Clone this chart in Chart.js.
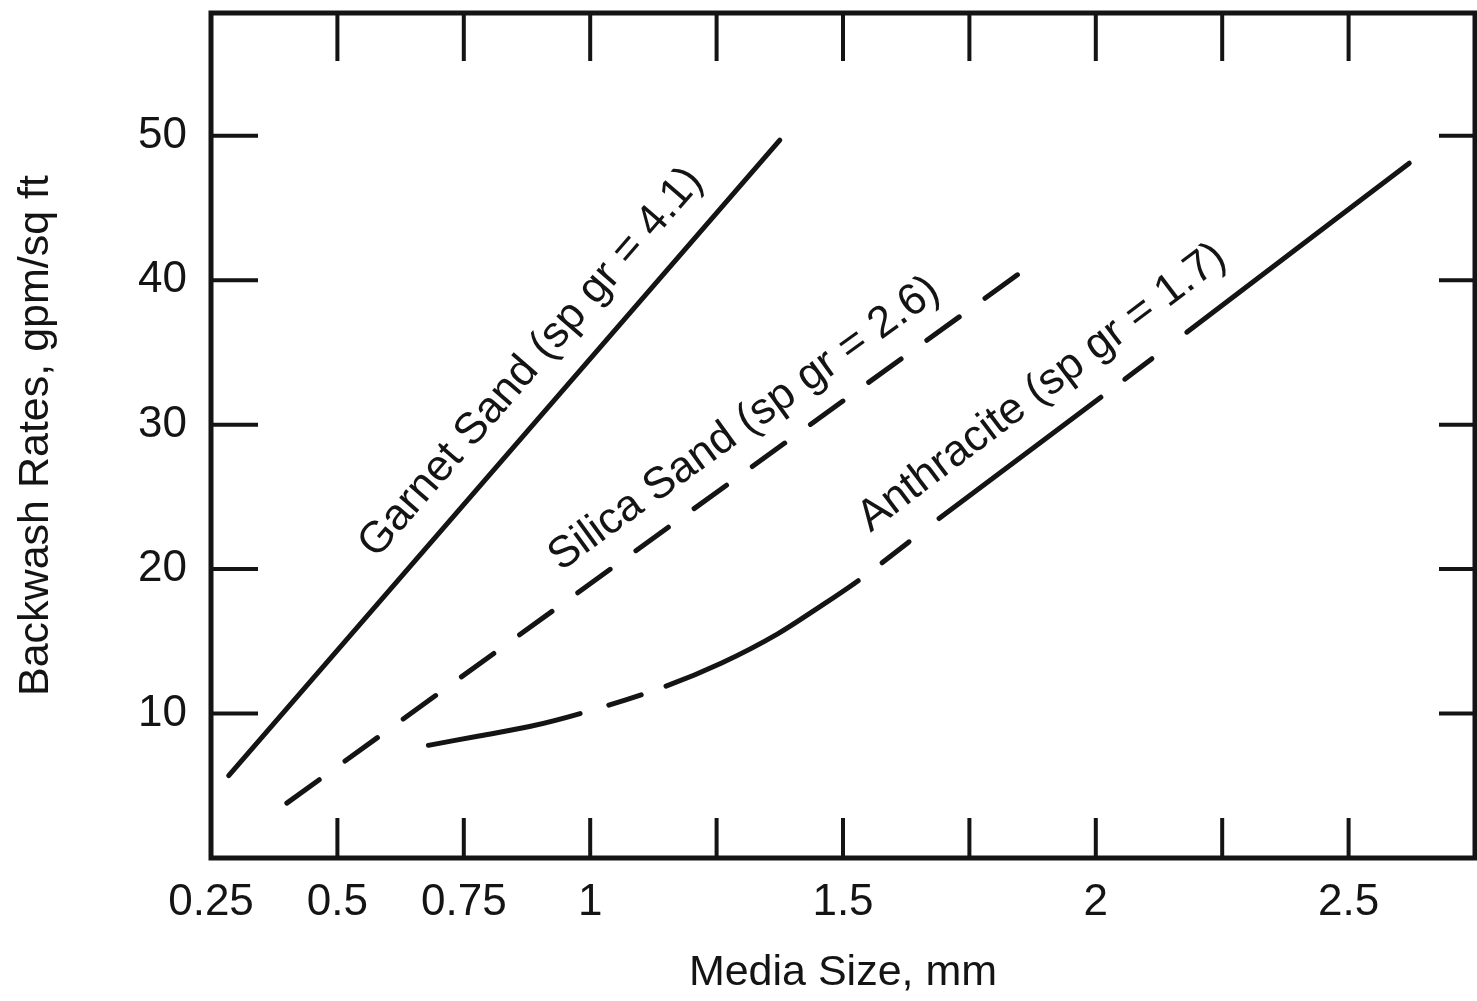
<!DOCTYPE html>
<html>
<head>
<meta charset="utf-8">
<script src="https://cdn.jsdelivr.net/npm/chart.js@4.4.1/dist/chart.umd.min.js"></script>
<style>
  html, body { margin: 0; padding: 0; background: #fff; overflow: hidden; }
  #wrap { width: 1477px; height: 1001px; position: relative; }
</style>
</head>
<body>
<div id="wrap"><canvas id="grafico"></canvas></div>
<script>
// media size (mm) vs backwash rate (gpm/sq ft)
const garnetX = [0.285, 1.375];
const garnetY = [5.7, 49.7];

const silicaX = [0.40, 1.846];
const silicaY = [3.8, 40.4];

const anthraciteX = [0.68, 0.78, 0.88, 0.98, 1.15, 1.26, 1.37, 1.45, 1.53, 1.69, 2.01, 2.18, 2.62];
const anthraciteY = [7.8, 8.45, 9.1, 10.0, 11.9, 13.5, 15.5, 17.3, 19.2, 23.5, 31.9, 36.4, 48.1];

const seriesNames = ['Garnet Sand (sp gr = 4.1)', 'Silica Sand (sp gr = 2.6)', 'Anthracite (sp gr = 1.7)'];
const xLabels = [0.25, 0.5, 0.75, 1, 1.5, 2, 2.5];
const yLabels = [10, 20, 30, 40, 50];

const INK = '#141414';
const FONT = "'Liberation Sans', Arial, Helvetica, sans-serif";

let puntos = (xs, ys) => xs.map((x, i) => ({ x, y: ys[i] }));

// anthracite: the segments that are broken (gap, short dash, gap)
const tramosCortados = [3, 8, 10];

/*
  ==================================================
  ============ frame, inner ticks, labels ===========
  ==================================================
*/

const etiquetas = [
  { ds: 0, desde: 0, hasta: 1, startX: 0.622, offset: 30 },
  { ds: 1, desde: 0, hasta: 1, startX: 0.973, offset: 27 },
  { ds: 2, desde: 9, hasta: 12, startX: 1.59, offset: 30 }
];

const marcoPlugin = {
  id: 'marco',
  afterDatasetsDraw(chart) {
    const { ctx, chartArea: a, scales: { x, y } } = chart;
    ctx.save();
    ctx.strokeStyle = INK;
    ctx.lineWidth = 5;
    ctx.strokeRect(a.left, a.top, a.right - a.left, a.bottom - a.top);

    ctx.lineWidth = 4;
    ctx.beginPath();
    x.ticks.forEach(t => {
      if (t.value <= x.min + 1e-6 || t.value >= x.max - 1e-6) return;
      let px = x.getPixelForValue(t.value);
      ctx.moveTo(px, a.bottom); ctx.lineTo(px, a.bottom - 40);
      ctx.moveTo(px, a.top); ctx.lineTo(px, a.top + 48);
    });
    y.ticks.forEach(t => {
      if (t.value <= y.min || t.value >= y.max) return;
      let py = y.getPixelForValue(t.value);
      ctx.moveTo(a.left, py); ctx.lineTo(a.left + 47, py);
      ctx.moveTo(a.right, py); ctx.lineTo(a.right - 36, py);
    });
    ctx.stroke();

    // labels along the curves
    ctx.fillStyle = INK;
    ctx.font = `44px ${FONT}`;
    ctx.textBaseline = 'alphabetic';
    ctx.textAlign = 'left';
    etiquetas.forEach(e => {
      let d = chart.data.datasets[e.ds].data;
      let p0 = d[e.desde], p1 = d[e.hasta];
      let x0 = x.getPixelForValue(p0.x), y0 = y.getPixelForValue(p0.y);
      let x1 = x.getPixelForValue(p1.x), y1 = y.getPixelForValue(p1.y);
      let ang = Math.atan2(y1 - y0, x1 - x0);
      let px = x.getPixelForValue(e.startX);
      let py = y0 + (px - x0) * (y1 - y0) / (x1 - x0);
      ctx.save();
      ctx.translate(px + Math.sin(ang) * e.offset, py - Math.cos(ang) * e.offset);
      ctx.rotate(ang);
      ctx.fillText(seriesNames[e.ds], 0, 0);
      ctx.restore();
    });
    ctx.restore();
  }
};

/*
  ==================================================
  ====================== CHART ======================
  ==================================================
*/

new Chart(document.getElementById('grafico').getContext('2d'), {
  type: 'line',
  data: {
    datasets: [
      {
        label: seriesNames[0],
        data: puntos(garnetX, garnetY),
        borderColor: INK,
        borderWidth: 5,
        borderCapStyle: 'round',
        pointRadius: 0
      },
      {
        label: seriesNames[1],
        data: puntos(silicaX, silicaY),
        borderColor: INK,
        borderWidth: 5,
        borderCapStyle: 'round',
        borderDash: [40, 31.8],
        pointRadius: 0
      },
      {
        label: seriesNames[2],
        data: puntos(anthraciteX, anthraciteY),
        borderColor: INK,
        borderWidth: 5,
        borderCapStyle: 'round',
        cubicInterpolationMode: 'monotone',
        pointRadius: 0,
        segment: {
          borderDash: c => tramosCortados.includes(c.p0DataIndex) ? [34, 1000] : [],
          borderDashOffset: c => tramosCortados.includes(c.p0DataIndex) ? 1034 - 30 : 0
        }
      }
    ]
  },
  options: {
    responsive: true,
    maintainAspectRatio: false,
    animation: false,
    layout: { autoPadding: false, padding: { top: 13, right: 2, left: 0, bottom: 0 } },
    plugins: {
      legend: { display: false },
      tooltip: { enabled: false }
    },
    scales: {
      x: {
        type: 'linear',
        min: 0.25,
        max: 2.75,
        grid: { display: false },
        border: { display: false },
        ticks: {
          stepSize: 0.25,
          autoSkip: false,
          maxRotation: 0,
          padding: 10,
          color: INK,
          font: { family: FONT, size: 44 },
          callback: v => {
            let l = xLabels.find(l => Math.abs(l - v) < 1e-6);
            return l === undefined ? '' : String(l);
          }
        },
        title: {
          display: true,
          text: 'Media Size, mm',
          color: INK,
          font: { family: FONT, size: 43 },
          padding: { top: 0, bottom: 2 }
        },
        afterFit: s => {
          s.height = 143;
          s.paddingLeft = 0;
          s.paddingRight = 0;
        }
      },
      y: {
        type: 'linear',
        min: 0,
        max: 58.5,
        grid: { display: false },
        border: { display: false },
        ticks: {
          stepSize: 10,
          includeBounds: false,
          padding: 16,
          color: INK,
          font: { family: FONT, size: 44 },
          callback: v => yLabels.includes(v) ? String(v) : ''
        },
        title: {
          display: true,
          text: 'Backwash Rates, gpm/sq ft',
          color: INK,
          font: { family: FONT, size: 43 },
          padding: { top: 10, bottom: 0 }
        },
        afterFit: s => {
          s.width = 211;
          s.paddingTop = 0;
          s.paddingBottom = 0;
        }
      }
    }
  },
  plugins: [marcoPlugin]
});
</script>
</body>
</html>
